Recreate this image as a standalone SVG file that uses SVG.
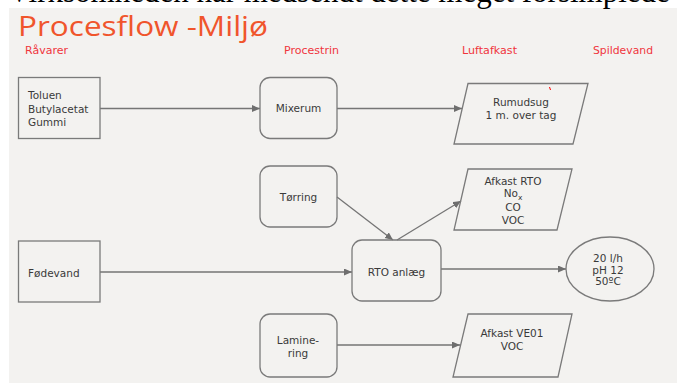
<svg xmlns="http://www.w3.org/2000/svg" width="677" height="383" viewBox="0 0 677 383">
<defs>
<marker id="ah" markerUnits="userSpaceOnUse" markerWidth="9" markerHeight="8" refX="8" refY="3.5" orient="auto">
<path d="M0,0 L8,3.5 L0,7 z" fill="#6e6e6e"/>
</marker>
</defs>
<style>
.shape{fill:none;stroke:#7a7a7a;stroke-width:1.3}
.lbl{font-family:"DejaVu Sans",Verdana,sans-serif;font-size:10.5px;fill:#3a3a3a}
.c{text-anchor:middle}
.hdr{font-family:"DejaVu Sans",Verdana,sans-serif;font-size:10px;fill:#f0353d}
.conn{fill:none;stroke:#757575;stroke-width:1.3;marker-end:url(#ah)}
</style>
<rect x="0" y="0" width="677" height="383" fill="#ffffff"/>
<rect x="9" y="8" width="668" height="375" fill="#f3f2f0"/>
<text x="8" y="1.5" font-family="Liberation Serif,Times New Roman,serif" font-size="31" fill="#000">Virksomheden har medsendt dette meget forsimplede</text>
<text x="18" y="36" font-family="Open Sans,Liberation Sans,sans-serif" font-size="28" fill="#f0552c" textLength="250" lengthAdjust="spacingAndGlyphs">Procesflow -Miljø</text>
<g id="headers">
<text class="hdr" x="25" y="54" textLength="43" lengthAdjust="spacingAndGlyphs">Råvarer</text>
<text class="hdr" x="284" y="54" textLength="55" lengthAdjust="spacingAndGlyphs">Procestrin</text>
<text class="hdr" x="462" y="54" textLength="55" lengthAdjust="spacingAndGlyphs">Luftafkast</text>
<text class="hdr" x="593" y="54" textLength="60" lengthAdjust="spacingAndGlyphs">Spildevand</text>
</g>
<g id="connectors">
<path class="conn" d="M100,108.5 H260"/>
<path class="conn" d="M337,108.5 H462"/>
<path class="conn" d="M337,197 L393,240"/>
<path class="conn" d="M397,240 L461,201"/>
<path class="conn" d="M100,272 H352"/>
<path class="conn" d="M441,269 H566"/>
<path class="conn" d="M337,345 H460"/>
</g>
<g id="raavarer1">
<rect class="shape" x="18.5" y="77.5" width="81.5" height="61"/>
<text class="lbl" x="28" y="99">Toluen</text>
<text class="lbl" x="28" y="112.5">Butylacetat</text>
<text class="lbl" x="28" y="126">Gummi</text>
</g>
<g id="mixerum">
<rect class="shape" x="260" y="77.5" width="77" height="61" rx="10"/>
<text class="lbl c" x="298.5" y="112">Mixerum</text>
</g>
<g id="rumudsug">
<path class="shape" d="M468,83.5 L588,83.5 L573,144 L454,144 Z"/>
<text class="lbl c" x="521" y="106">Rumudsug</text>
<text class="lbl c" x="521" y="119">1 m. over tag</text>
<path d="M549.5,87 L550.5,90" stroke="#ff0000" stroke-width="1"/>
</g>
<g id="toerring">
<rect class="shape" x="260" y="166" width="77" height="61" rx="10"/>
<text class="lbl c" x="298.5" y="200.5">Tørring</text>
</g>
<g id="foedevand">
<rect class="shape" x="18.5" y="241" width="81.5" height="61"/>
<text class="lbl" x="28" y="276.5">Fødevand</text>
</g>
<g id="rto">
<rect class="shape" x="352" y="240" width="89" height="61" rx="10"/>
<text class="lbl c" x="396.5" y="275.5">RTO anlæg</text>
</g>
<g id="afkastrto">
<path class="shape" d="M468,169 L572,169 L557,230 L454,230 Z"/>
<text class="lbl c" x="513" y="185">Afkast RTO</text>
<text class="lbl c" x="513" y="197">No<tspan font-size="7.5" dy="2.5">x</tspan></text>
<text class="lbl c" x="513" y="211">CO</text>
<text class="lbl c" x="513" y="224">VOC</text>
</g>
<g id="spildevand">
<ellipse class="shape" cx="610" cy="269" rx="44" ry="32"/>
<text class="lbl c" x="608" y="262">20 l/h</text>
<text class="lbl c" x="608" y="273.5">pH 12</text>
<text class="lbl c" x="608" y="285">50ºC</text>
</g>
<g id="laminering">
<rect class="shape" x="260" y="314" width="77" height="63" rx="10"/>
<text class="lbl c" x="298" y="344">Lamine-</text>
<text class="lbl c" x="298" y="357">ring</text>
</g>
<g id="afkastve01">
<path class="shape" d="M468,314 L572,314 L558,377 L453,377 Z"/>
<text class="lbl c" x="512" y="337">Afkast VE01</text>
<text class="lbl c" x="512" y="350">VOC</text>
</g>
</svg>
